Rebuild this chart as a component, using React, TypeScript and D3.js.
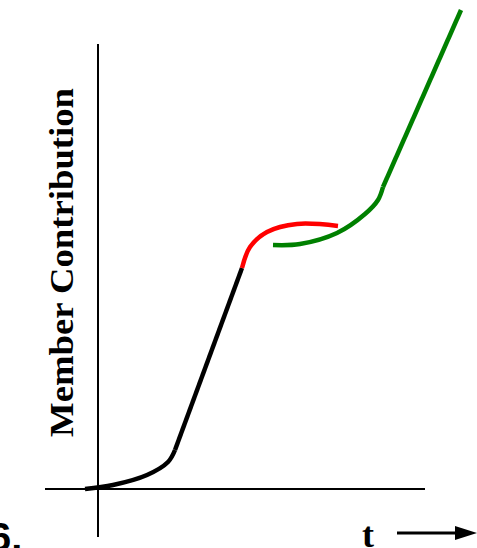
import React from 'react';
import { scaleLinear, line, curveCatmullRom, curveLinear } from 'd3';

const width = 477;
const height = 548;

// curve points in chart units (t, contribution)
const blackCurve: [number, number][] = [[-1.3, 0], [1.5, 0.4], [4.9, 1.4], [7.0, 2.7], [7.7, 3.9]];
const blackLine: [number, number][] = [[7.7, 3.9], [14.4, 22.1]];
const redCurve: [number, number][] = [[14.4, 22.1], [15.2, 24.2], [16.9, 25.7], [19.9, 26.5], [24.0, 26.3]];
const greenCurve: [number, number][] = [[17.5, 24.4], [20.2, 24.5], [23.9, 25.6], [26.7, 27.5], [28.0, 28.9], [28.5, 30.2]];
const greenLine: [number, number][] = [[28.5, 30.2], [36.3, 47.9]];

const xAxisExtent = [-5.3, 32.7];
const yAxisExtent = [-4.8, 44.5];

const x = scaleLinear().domain([0, 10]).range([98, 198]);
const y = scaleLinear().domain([0, 10]).range([489, 389]);

const curveGen = line<[number, number]>()
  .x(d => x(d[0]))
  .y(d => y(d[1]))
  .curve(curveCatmullRom);

const straightGen = line<[number, number]>()
  .x(d => x(d[0]))
  .y(d => y(d[1]))
  .curve(curveLinear);

const serif = '"Liberation Serif", "Times New Roman", serif';

export default function App() {
  return (
    <svg width={width} height={height} style={{ position: 'absolute', left: 0, top: 0 }}>
      <rect width={width} height={height} fill='white' />
      {/* axes */}
      <line x1={x(xAxisExtent[0])} x2={x(xAxisExtent[1])} y1={y(0)} y2={y(0)} stroke='black' strokeWidth={2} />
      <line x1={x(0)} x2={x(0)} y1={y(yAxisExtent[0])} y2={y(yAxisExtent[1])} stroke='black' strokeWidth={2} />

      <path d={curveGen(blackCurve) as string} fill='none' stroke='black' strokeWidth={4.5} strokeLinejoin='round' />
      <path d={straightGen(blackLine) as string} fill='none' stroke='black' strokeWidth={4.5} />
      <path d={curveGen(redCurve) as string} fill='none' stroke='#ff0000' strokeWidth={4.5} />
      <path d={curveGen(greenCurve) as string} fill='none' stroke='#008000' strokeWidth={4.5} />
      <path d={straightGen(greenLine) as string} fill='none' stroke='#008000' strokeWidth={4.5} />

      <text
        transform='translate(73, 262.5) rotate(-90)'
        textAnchor='middle'
        fontFamily={serif}
        fontWeight='bold'
        fontSize={34}
        textLength={349}
        lengthAdjust='spacingAndGlyphs'
      >
        Member Contribution
      </text>

      <text x={362} y={547} fontFamily={serif} fontWeight='bold' fontSize={36}>t</text>
      <line x1={397} x2={458} y1={533} y2={533} stroke='black' strokeWidth={3} />
      <path d='M455,526 L477,533 L455,540 Z' fill='black' />

      <text x={-11} y={551} fontFamily='"Liberation Sans", Arial, sans-serif' fontWeight='bold' fontSize={40}>6.</text>
    </svg>
  );
}
